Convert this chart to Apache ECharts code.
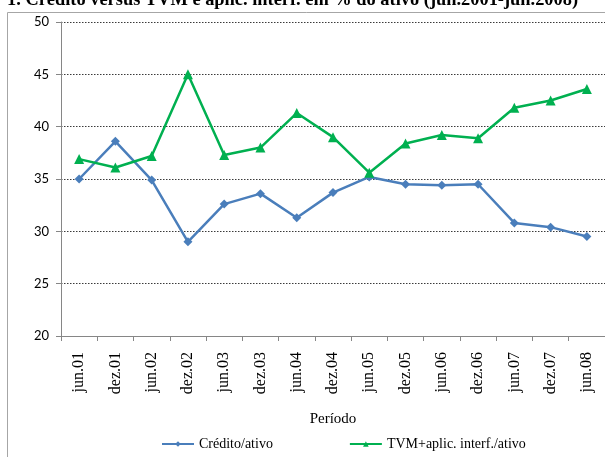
<!DOCTYPE html>
<html>
<head>
<meta charset="utf-8">
<script src="https://cdn.jsdelivr.net/npm/echarts@6/dist/echarts.min.js"></script>
<style>
  html, body { margin: 0; padding: 0; background: #fff; }
  #chart { width: 605px; height: 457px; }
</style>
</head>
<body>
<div id="chart"></div>
<script>
// Semiannual periods, June 2001 to June 2008
const periods = ['jun.01', 'dez.01', 'jun.02', 'dez.02', 'jun.03', 'dez.03', 'jun.04', 'dez.04',
                 'jun.05', 'dez.05', 'jun.06', 'dez.06', 'jun.07', 'dez.07', 'jun.08'];

// Share of total assets (%)
const creditoAtivo = [35.0, 38.6, 34.9, 29.0, 32.6, 33.6, 31.3, 33.7,
                      35.2, 34.5, 34.4, 34.5, 30.8, 30.4, 29.5];
const tvmAtivo = [36.9, 36.1, 37.2, 45.0, 37.3, 38.0, 41.3, 39.0,
                  35.6, 38.4, 39.2, 38.9, 41.8, 42.5, 43.6];

const seriesNames = ['Crédito/ativo', 'TVM+aplic. interf./ativo'];
const yTicks = { min: 20, max: 50, interval: 5 };

const chart = echarts.init(document.getElementById('chart'), null, { renderer: 'canvas' });

chart.setOption({
  animation: false,
  backgroundColor: '#ffffff',
  title: {
    text: '1. Crédito versus TVM e aplic. interf. em % do ativo (jun.2001-jun.2008)',
    left: 2,
    top: -14,
    textStyle: { fontFamily: 'Liberation Serif', fontWeight: 'bold', fontSize: 18.4, color: '#000' }
  },
  graphic: [{
    type: 'rect',
    shape: { x: 7.5, y: 12.5, width: 620, height: 460 },
    style: { fill: 'none', stroke: '#a6a6a6', lineWidth: 1 },
    silent: true,
    z: -1
  }],
  grid: { left: 61, right: 0, top: 22, bottom: 121, containLabel: false },
  legend: {
    data: seriesNames,
    bottom: 1,
    left: 156,
    itemGap: 76,
    itemWidth: 32,
    itemHeight: 7,
    textStyle: { fontFamily: 'Liberation Serif', fontSize: 14, color: '#000' }
  },
  xAxis: {
    type: 'category',
    data: periods,
    boundaryGap: true,
    name: 'Período',
    nameLocation: 'middle',
    nameGap: 76,
    nameTextStyle: { fontFamily: 'Liberation Serif', fontSize: 15, color: '#000' },
    axisLine: { lineStyle: { color: '#868686', width: 1 } },
    axisTick: { show: true, alignWithLabel: false, length: 5, lineStyle: { color: '#868686' } },
    axisLabel: {
      rotate: 90,
      margin: 16,
      fontFamily: 'Liberation Serif',
      fontSize: 16,
      color: '#000',
      interval: 0
    },
    splitLine: { show: false }
  },
  yAxis: {
    type: 'value',
    min: yTicks.min,
    max: yTicks.max,
    interval: yTicks.interval,
    axisLine: { show: true, lineStyle: { color: '#868686', width: 1 } },
    axisTick: { show: true, length: 5, lineStyle: { color: '#868686' } },
    axisLabel: { fontFamily: 'Lato', fontSize: 13, color: '#000', margin: 12 },
    splitLine: { show: true, lineStyle: { color: '#3a3a3a', type: [1.5, 1.5], width: 1 } }
  },
  series: [
    {
      name: seriesNames[0],
      type: 'line',
      data: creditoAtivo,
      symbol: 'diamond',
      symbolSize: 9,
      lineStyle: { color: '#4a7ebb', width: 2.5 },
      itemStyle: { color: '#4a7ebb' },
      z: 3
    },
    {
      name: seriesNames[1],
      type: 'line',
      data: tvmAtivo,
      symbol: 'triangle',
      symbolSize: 10,
      lineStyle: { color: '#00b050', width: 2.5 },
      itemStyle: { color: '#00b050' },
      z: 4
    }
  ]
});
</script>
</body>
</html>
